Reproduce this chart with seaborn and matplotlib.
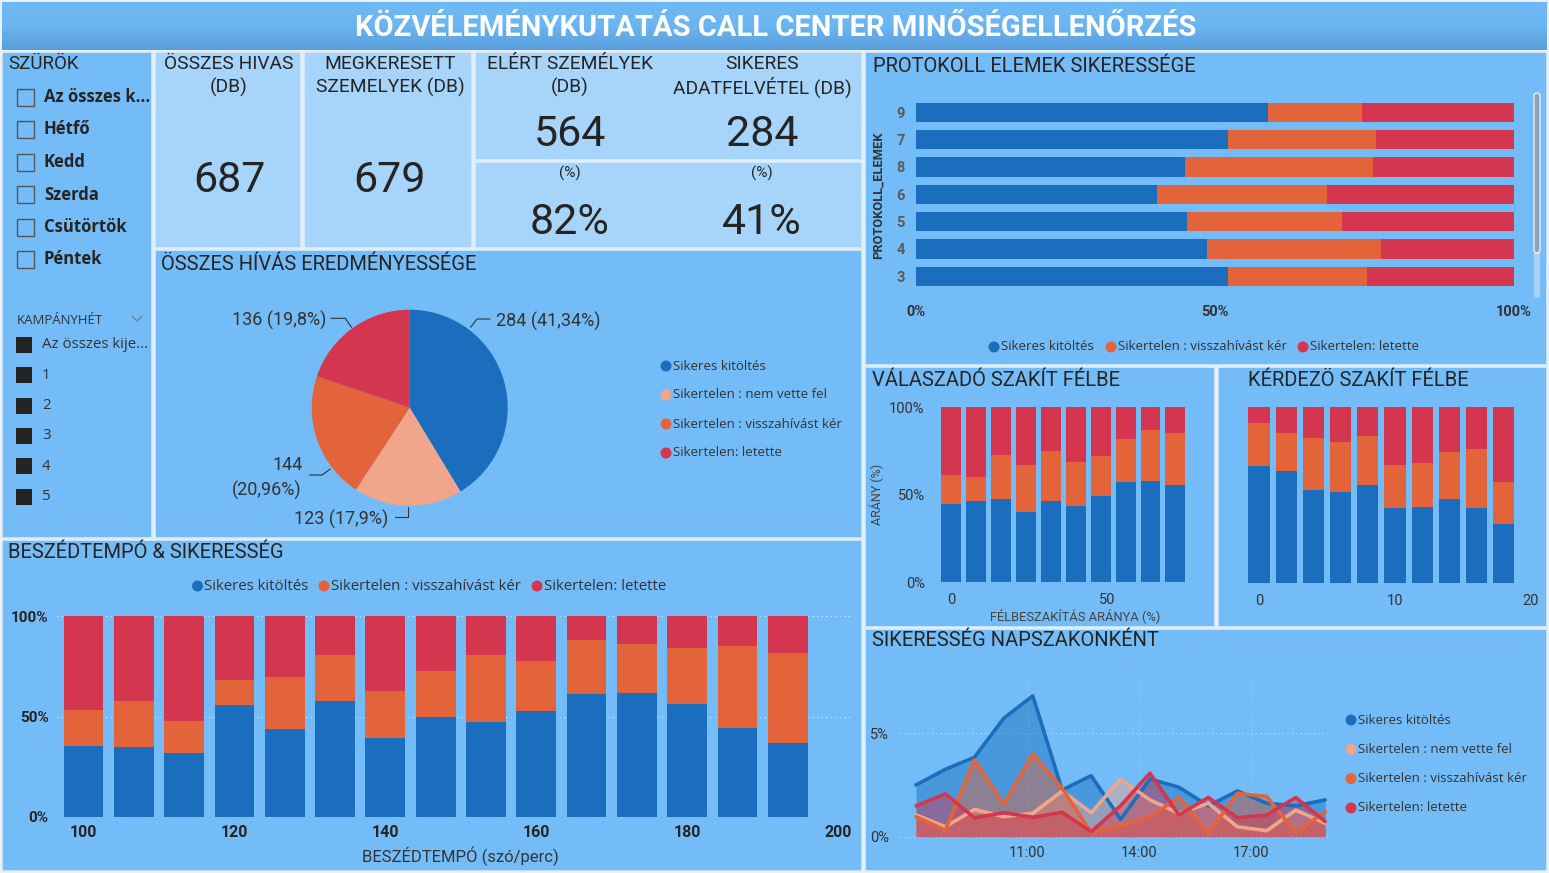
import numpy as np
import pandas as pd
import matplotlib
matplotlib.use("Agg")
import matplotlib.pyplot as plt
from matplotlib.patches import Rectangle, Circle, FancyBboxPatch
import seaborn as sns

# ---- data ----
status_labels = ["Sikeres kitöltés", "Sikertelen : nem vette fel",
                 "Sikertelen : visszahívást kér", "Sikertelen: letette"]
pie_counts = [284, 123, 144, 136]

kpi_total_calls = 687
kpi_contacted = 679
kpi_reached = 564
kpi_reached_pct = "82%"
kpi_success = 284
kpi_success_pct = "41%"

day_filters = ["Az összes k...", "Hétfő", "Kedd", "Szerda", "Csütörtök", "Péntek"]
week_filters = ["Az összes kije...", "1", "2", "3", "4", "5"]

proto_items = ["9", "7", "8", "6", "5", "4", "3"]
proto_success = [0.589, 0.522, 0.450, 0.403, 0.454, 0.486, 0.522]
proto_callback = [0.157, 0.247, 0.315, 0.284, 0.259, 0.292, 0.233]

resp_x = [0, 8, 16, 24, 32, 40, 48, 56, 64, 72]
resp_success = [0.446, 0.467, 0.478, 0.404, 0.467, 0.438, 0.493, 0.573, 0.581, 0.558]
resp_callback = [0.167, 0.135, 0.252, 0.266, 0.285, 0.250, 0.229, 0.246, 0.291, 0.297]

intv_x = [0, 2, 4, 6, 8, 10, 12, 14, 16, 18]
intv_success = [0.669, 0.638, 0.532, 0.519, 0.561, 0.430, 0.434, 0.477, 0.430, 0.339]
intv_callback = [0.244, 0.216, 0.296, 0.282, 0.276, 0.242, 0.250, 0.267, 0.333, 0.237]

speech_x = [100, 106.67, 113.33, 120, 126.67, 133.33, 140, 146.67, 153.33,
            160, 166.67, 173.33, 180, 186.67, 193.33]
speech_success = [0.355, 0.347, 0.317, 0.560, 0.440, 0.576, 0.392, 0.500,
                  0.475, 0.528, 0.615, 0.620, 0.563, 0.445, 0.370]
speech_callback = [0.178, 0.233, 0.161, 0.123, 0.259, 0.231, 0.236, 0.229,
                   0.334, 0.251, 0.269, 0.242, 0.281, 0.407, 0.446]

hours = [8.0, 8.79, 9.57, 10.36, 11.14, 11.93, 12.71, 13.5, 14.29, 15.07,
         15.86, 16.64, 17.43, 18.21, 19.0]
tod_success = [2.50, 3.26, 3.84, 5.73, 6.81, 2.26, 2.95, 0.84, 2.79, 2.39, 1.49, 2.21, 1.62, 1.49, 1.78]
tod_noanswer = [1.05, 0.48, 1.32, 0.97, 1.13, 2.21, 1.16, 2.78, 1.78, 1.13, 1.62, 0.48, 0.29, 1.29, 0.65]
tod_callback = [0.97, 0.32, 3.71, 1.58, 4.00, 2.34, 0.19, 0.56, 0.97, 1.90, 0.16, 2.10, 1.94, 0.19, 1.21]
tod_hangup = [1.49, 2.07, 0.92, 1.16, 0.94, 1.18, 0.24, 1.50, 3.07, 1.05, 1.90, 0.92, 1.05, 1.90, 0.73]

# ---- style ----
BLUE = "#1a6ebd"
ORANGE = "#e3643b"
RED = "#d4364f"
SALMON = "#f1a68b"
PANEL = "#73bcf7"
CARD = "#a6d4fa"
EDGE = "#dcecfb"
TXT = "#252423"
TXT2 = "#333333"
DIN = ["Roboto", "DejaVu Sans"]
SEGOE = ["Open Sans", "DejaVu Sans"]

sns.set_style("white")
plt.rcParams["font.family"] = DIN

W, H = 1549, 873
fig = plt.figure(figsize=(W / 100, H / 100), dpi=100)
fig.patch.set_facecolor("#e9f2fb")

bg = fig.add_axes([0, 0, 1, 1])
bg.set_xlim(0, W)
bg.set_ylim(H, 0)
bg.axis("off")


def px_axes(x0, y0, x1, y1):
    ax = fig.add_axes([x0 / W, 1 - y1 / H, (x1 - x0) / W, (y1 - y0) / H])
    ax.set_facecolor("none")
    for s in ax.spines.values():
        s.set_visible(False)
    ax.tick_params(length=0)
    return ax


def panel(x0, y0, x1, y1, color=PANEL):
    bg.add_patch(Rectangle((x0, y0), x1 - x0, y1 - y0, facecolor=color,
                           edgecolor=EDGE, linewidth=1.2))


def legend_row(items, y, fs=9.5):
    for cx, label, color in items:
        bg.add_patch(Circle((cx, y), 5.5, color=color, lw=0))
        bg.text(cx + 7, y, label, fontsize=fs, va="center", ha="left",
                family=SEGOE, color=TXT2)


def stacked_vbars(ax, x, success, callback, width=0.8):
    df = pd.DataFrame({"x": x, "s": success, "c": callback})
    df["sc"] = df["s"] + df["c"]
    df["total"] = 1.0
    for col, color in [("total", RED), ("sc", ORANGE), ("s", BLUE)]:
        sns.barplot(data=df, x="x", y=col, color=color, native_scale=True,
                    width=width, errorbar=None, saturation=1, linewidth=0, ax=ax)
    ax.set(xlabel="", ylabel="")
    ax.set_ylim(0, 1)


TITLE_FS = 14.5

# ---- title bar ----
grad = np.linspace(0, 1, 100).reshape(-1, 1)
bg.imshow(grad, extent=[2, 1547, 50, 2], aspect="auto",
          cmap=matplotlib.colors.LinearSegmentedColormap.from_list(
              "t", ["#6fbaf6", "#6ab5f2", "#5a9edb"]), zorder=1)
bg.text(776, 28, "KÖZVÉLEMÉNYKUTATÁS CALL CENTER MINŐSÉGELLENŐRZÉS",
        fontsize=21, fontweight="bold", color="white", ha="center", va="center", zorder=2)

# ---- panels ----
panel(2, 52, 152, 538)
panel(155, 250, 862, 538)
panel(2, 540, 862, 871)
panel(865, 52, 1547, 365)
panel(865, 367, 1215, 627)
panel(1218, 367, 1547, 627)
panel(865, 629, 1547, 871)
panel(155, 52, 301, 248, CARD)
panel(304, 52, 472, 248, CARD)
panel(475, 52, 862, 160, CARD)
panel(475, 162, 862, 248, CARD)

# ---- filters ----
bg.text(8, 64, "SZÜRÖK", fontsize=13.5, color=TXT, va="center")
for i, lab in enumerate(day_filters):
    y = [97, 129.5, 162, 194.5, 227, 259.5][i]
    bg.add_patch(Rectangle((17, y - 8.5), 17, 17, facecolor="none",
                           edgecolor="#555555", linewidth=1))
    bg.text(44, y, lab, fontsize=12, fontweight="bold", family=SEGOE,
            color=TXT, va="center")
bg.text(17, 320, "KAMPÁNYHÉT", fontsize=9.5, family=SEGOE, color=TXT2, va="center")
bg.plot([132, 137, 142], [316, 321, 316], color="#6a7f93", lw=0.9)
for i, lab in enumerate(week_filters):
    y = 345 + 30.3 * i
    bg.add_patch(Rectangle((16, y - 8), 16, 16, facecolor=TXT, edgecolor="none"))
    bg.text(42, y, lab, fontsize=10.8, family=SEGOE, color=TXT2, va="center")

# ---- KPI cards ----
kpi_head = dict(fontsize=13.8, color=TXT, ha="center", va="center")
kpi_val = dict(fontsize=31, color=TXT, ha="center", va="center")
bg.text(229, 64, "ÖSSZES HIVAS", **kpi_head)
bg.text(229, 87, "(DB)", **kpi_head)
bg.text(229, 180, f"{kpi_total_calls}", **kpi_val)
bg.text(390, 64, "MEGKERESETT", **kpi_head)
bg.text(390, 87, "SZEMELYEK (DB)", **kpi_head)
bg.text(390, 180, f"{kpi_contacted}", **kpi_val)
bg.text(570, 64, "ELÉRT SZEMÉLYEK", **kpi_head)
bg.text(570, 87, "(DB)", **kpi_head)
bg.text(570, 134, f"{kpi_reached}", **kpi_val)
bg.text(570, 173, "(%)", fontsize=11, color=TXT, ha="center", va="center")
bg.text(570, 222, kpi_reached_pct, **kpi_val)
bg.text(762, 64, "SIKERES", **kpi_head)
bg.text(762, 87, "ADATFELVÉTEL (DB)", **kpi_head)
bg.text(762, 134, f"{kpi_success}", **kpi_val)
bg.text(762, 173, "(%)", fontsize=11, color=TXT, ha="center", va="center")
bg.text(762, 222, kpi_success_pct, **kpi_val)

# ---- pie ----
bg.text(161, 264, "ÖSSZES HÍVÁS EREDMÉNYESSÉGE", fontsize=TITLE_FS, color=TXT, va="center")
pie_colors = [BLUE, SALMON, ORANGE, RED]
axp = px_axes(289.7, 287.7, 529.7, 527.7)
axp.pie(pie_counts, colors=pie_colors, startangle=90, counterclock=False,
        radius=0.98, wedgeprops=dict(linewidth=0))
axp.set_xlim(-1.2, 1.2)
axp.set_ylim(-1.2, 1.2)
total = sum(pie_counts)


def pct_txt(v):
    s = f"{100 * v / total:.2f}".rstrip("0").rstrip(".")
    return s.replace(".", ",") + "%"


lab_style = dict(fontsize=13, color=TXT2, va="center")
bg.text(496, 321.5, f"{pie_counts[0]} ({pct_txt(pie_counts[0])})", ha="left", **lab_style)
bg.plot([470.6, 477, 490], [327.3, 319, 319], color="#333333", lw=0.8)
bg.text(388, 519.5, f"{pie_counts[1]} ({pct_txt(pie_counts[1])})", ha="right", **lab_style)
bg.plot([394.6, 408.1, 408.1], [516.7, 516.7, 506.7], color="#333333", lw=0.8)
bg.text(288, 465, f"{pie_counts[2]}", ha="center", **lab_style)
bg.text(267, 490, f"({pct_txt(pie_counts[2])})", ha="center", **lab_style)
bg.plot([309.4, 322, 330.3], [475, 475, 469], color="#333333", lw=0.8)
bg.text(326, 320.5, f"{pie_counts[3]} ({pct_txt(pie_counts[3])})", ha="right", **lab_style)
bg.plot([331, 345.2, 351.5], [318.3, 318.3, 327.3], color="#333333", lw=0.8)
for i, lab in enumerate(status_labels):
    bg.add_patch(Circle((666, 366 + 29 * i), 5.5, color=pie_colors[i], lw=0))
    bg.text(673.5, 366 + 29 * i, lab, fontsize=9.5, family=SEGOE, color=TXT2, va="center")

# ---- protokoll elemek ----
bg.text(873, 66, "PROTOKOLL ELEMEK SIKERESSÉGE", fontsize=TITLE_FS, color=TXT, va="center")
axh = px_axes(916, 98.6, 1514, 290)
dfp = pd.DataFrame({"item": proto_items, "s": proto_success, "c": proto_callback})
dfp["sc"] = dfp["s"] + dfp["c"]
dfp["total"] = 1.0
for col, color in [("total", RED), ("sc", ORANGE), ("s", BLUE)]:
    sns.barplot(data=dfp, x=col, y="item", order=proto_items, orient="h",
                color=color, width=0.7, errorbar=None, saturation=1,
                linewidth=0, ax=axh)
axh.set(xlabel="", ylabel="")
axh.set_xlim(0, 1)
axh.set_ylim(len(proto_items) - 0.5, -0.5)
axh.set_xticks([0, 0.5, 1])
axh.set_xticklabels(["0%", "50%", "100%"], fontweight="bold", fontsize=10.5, color=TXT2)
axh.tick_params(axis="x", pad=11)
axh.tick_params(axis="y", pad=8)
for t in axh.get_yticklabels():
    t.set_fontweight("bold")
    t.set_fontsize(10.5)
    t.set_color("#5a5a5a")
bg.text(878, 195, "PROTOKOLL_ELEMEK", rotation=90, fontsize=9.3, fontweight="bold",
        color=TXT2, ha="center", va="center")
bg.add_patch(FancyBboxPatch((1534, 93), 6, 205, boxstyle="round,pad=0,rounding_size=3",
                            facecolor="#a9d2f4", edgecolor="none"))
bg.add_patch(FancyBboxPatch((1534, 93), 6, 160, boxstyle="round,pad=0,rounding_size=3",
                            facecolor="#8da3b7", edgecolor="white", lw=0.8))
legend_row([(994, status_labels[0], BLUE), (1111, status_labels[2], ORANGE),
            (1303, status_labels[3], RED)], 347)

# ---- valaszado szakit felbe ----
bg.text(872, 380, "VÁLASZADÓ SZAKÍT FÉLBE", fontsize=TITLE_FS, color=TXT, va="center")
axr = px_axes(935.8, 407.3, 1194.1, 582.3)
stacked_vbars(axr, resp_x, resp_success, resp_callback)
axr.set_xlim(-5, 78)
axr.set_xticks([0, 50])
axr.set_xticklabels(["0", "50"], fontsize=10.5, color=TXT2)
axr.set_yticks([0, 0.5, 1])
axr.set_yticklabels(["0%", "50%", "100%"], fontsize=10.5, color=TXT2)
axr.tick_params(axis="x", pad=8)
axr.tick_params(axis="y", pad=8)
bg.text(1075, 616, "FÉLBESZAKÍTÁS ARÁNYA (%)", fontsize=9.3, color="#444444",
        ha="center", va="center")
bg.text(877, 494, "ARÁNY (%)", rotation=90, fontsize=9, color="#444444",
        ha="center", va="center")

# ---- kerdezo szakit felbe ----
bg.text(1248, 380, "KÉRDEZÖ SZAKÍT FÉLBE", fontsize=TITLE_FS, color=TXT, va="center")
axk = px_axes(1238.6, 407.3, 1544.6, 583.3)
stacked_vbars(axk, intv_x, intv_success, intv_callback, width=0.78)
axk.set_xlim(-1.5, 21)
axk.set_xticks([0, 10, 20])
axk.set_xticklabels(["0", "10", "20"], fontsize=10.5, color=TXT2)
axk.set_yticks([])
axk.tick_params(axis="x", pad=8)

# ---- beszedtempo ----
bg.text(8, 552, "BESZÉDTEMPÓ & SIKERESSÉG", fontsize=TITLE_FS, color=TXT, va="center")
axs = px_axes(57, 616.3, 849.5, 817)
for yv in [0, 0.5, 1]:
    axs.axhline(yv, color="white", lw=0.8, ls=(0, (1, 3)), alpha=0.7, zorder=0)
stacked_vbars(axs, speech_x, speech_success, speech_callback, width=0.79)
axs.set_xlim(96.5, 201.5)
axs.set_xticks([100, 120, 140, 160, 180, 200])
axs.set_xticklabels(["100", "120", "140", "160", "180", "200"],
                    fontweight="bold", fontsize=11.5, color=TXT)
axs.set_yticks([0, 0.5, 1])
axs.set_yticklabels(["0%", "50%", "100%"], fontweight="bold", fontsize=11, color=TXT)
axs.tick_params(axis="x", pad=6)
axs.tick_params(axis="y", pad=6)
bg.text(460, 856, "BESZÉDTEMPÓ (szó/perc)", fontsize=12, color=TXT2,
        ha="center", va="center")
legend_row([(197.5, status_labels[0], BLUE), (324, status_labels[2], ORANGE),
            (537, status_labels[3], RED)], 586, fs=10.8)

# ---- sikeresseg napszakonkent ----
bg.text(872, 641, "SIKERESSÉG NAPSZAKONKÉNT", fontsize=TITLE_FS, color=TXT, va="center")
axl = px_axes(900, 680, 1330, 836.7)
for yv in [0, 5]:
    axl.axhline(yv, color="white", lw=0.8, ls=(0, (1, 3)), alpha=0.6, zorder=0)
for xv in [11, 14, 17]:
    axl.axvline(xv, color="white", lw=0.8, ls=(0, (1, 3)), alpha=0.35, zorder=0)
tod_series = [tod_success, tod_noanswer, tod_callback, tod_hangup]
for vals, color in zip(tod_series, pie_colors):
    axl.fill_between(hours, vals, 0, color=color, alpha=0.45, linewidth=0)
    sns.lineplot(x=hours, y=vals, color=color, linewidth=2.6, ax=axl)
for ln in axl.lines:
    ln.set_clip_on(False)
axl.set_xlim(7.57, 19.13)
axl.set_ylim(0, 7.58)
axl.set_xticks([11, 14, 17])
axl.set_xticklabels(["11:00", "14:00", "17:00"], fontsize=10.5, color=TXT2)
axl.set_yticks([0, 5])
axl.set_yticklabels(["0%", "5%"], fontsize=10.5, color=TXT2)
axl.tick_params(axis="x", pad=7)
axl.tick_params(axis="y", pad=8)
axl.set(xlabel="", ylabel="")
for i, lab in enumerate(status_labels):
    bg.add_patch(Circle((1351, 720 + 29.3 * i), 5.5, color=pie_colors[i], lw=0))
    bg.text(1358.5, 720 + 29.3 * i, lab, fontsize=9.5, family=SEGOE, color=TXT2, va="center")

fig.savefig("out.png", dpi=100)
